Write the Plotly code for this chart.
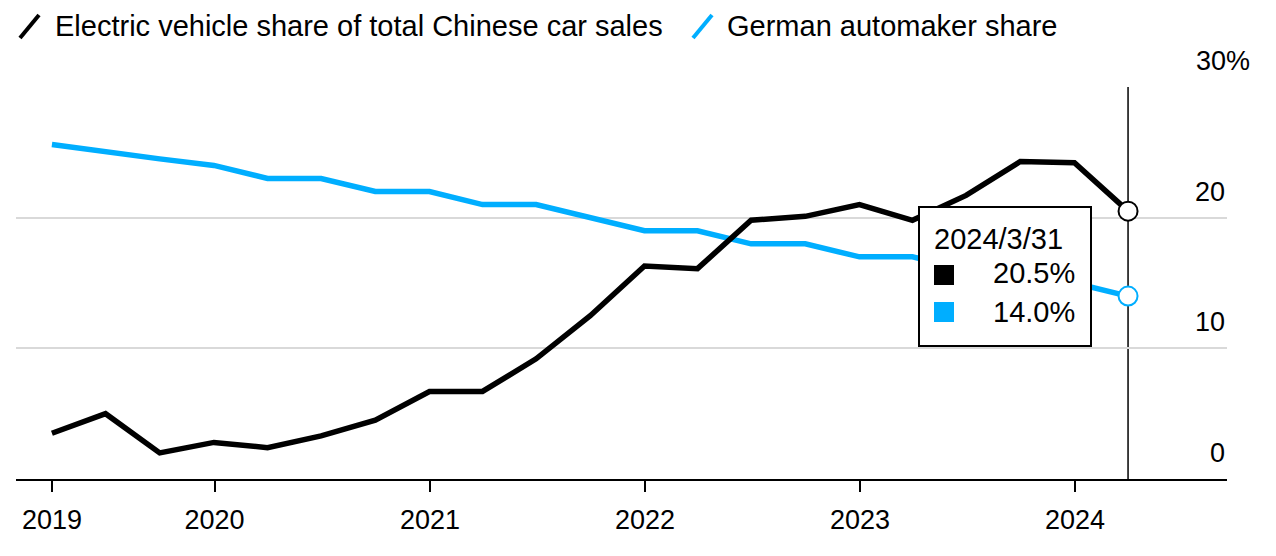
import plotly.graph_objects as go

# ---- data ----
dates = [
    "2019-03-31", "2019-06-30", "2019-09-30", "2019-12-31",
    "2020-03-31", "2020-06-30", "2020-09-30", "2020-12-31",
    "2021-03-31", "2021-06-30", "2021-09-30", "2021-12-31",
    "2022-03-31", "2022-06-30", "2022-09-30", "2022-12-31",
    "2023-03-31", "2023-06-30", "2023-09-30", "2023-12-31",
    "2024-03-31",
]
ev_share = [3.5, 5.0, 2.0, 2.8, 2.4, 3.3, 4.5, 6.7, 6.7, 9.2, 12.5, 16.3,
            16.1, 19.8, 20.1, 21.0, 19.8, 21.7, 24.3, 24.2, 20.5]
german_share = [25.6, 25.0, 24.5, 24.0, 23.0, 23.0, 22.0, 22.0, 21.0, 21.0,
                20.0, 19.0, 19.0, 18.0, 18.0, 17.0, 17.0, 16.0, 15.0, 15.0, 14.0]
series_names = ["Electric vehicle share of total Chinese car sales", "German automaker share"]
x_tick_vals = ["2019-03-31", "2020-01-01", "2021-01-01", "2022-01-01", "2023-01-01", "2024-01-01"]
x_tick_text = ["2019", "2020", "2021", "2022", "2023", "2024"]
y_tick_vals = [0, 10, 20, 30]
y_tick_text = ["0", "10", "20", "30%"]

BLACK = "#000000"
BLUE = "#00AEFF"
FONT = "Liberation Sans, Arial, sans-serif"

# page offset (body margin) = 8px; figure sized to fit the window
OFF = 8
W, H = 1276 - OFF, 556 - OFF
# plot area in screen pixels
SX0, SX1, SY0, SY1 = 16, 1227, 87, 479
L, R, T, B = SX0 - OFF, W - (SX1 - OFF), SY0 - OFF, H - (SY1 - OFF)
PW = SX1 - SX0
PH = SY1 - SY0


def px(xp):
    return (xp - SX0) / PW


def py(yp):
    return (SY1 - yp) / PH


fig = go.Figure()
fig.add_trace(go.Scatter(x=dates, y=german_share, mode="lines",
                         line=dict(color=BLUE, width=5.5), name=series_names[1],
                         showlegend=False, hoverinfo="skip"))
fig.add_trace(go.Scatter(x=dates, y=ev_share, mode="lines",
                         line=dict(color=BLACK, width=5.5), name=series_names[0],
                         showlegend=False, hoverinfo="skip"))
# hover markers at the last point
fig.add_trace(go.Scatter(x=[dates[-1]], y=[german_share[-1]], mode="markers",
                         marker=dict(size=19, color="white", line=dict(color=BLUE, width=2)),
                         showlegend=False, hoverinfo="skip"))
fig.add_trace(go.Scatter(x=[dates[-1]], y=[ev_share[-1]], mode="markers",
                         marker=dict(size=19, color="white", line=dict(color=BLACK, width=2)),
                         showlegend=False, hoverinfo="skip"))

shapes = []
# crosshair line
shapes.append(dict(type="line", xref="x", yref="y", x0=dates[-1], x1=dates[-1],
                   y0=0, y1=30, line=dict(color=BLACK, width=1.5), layer="below"))
# tooltip box
shapes.append(dict(type="rect", xref="paper", yref="paper",
                   x0=px(919), x1=px(1091), y0=py(346), y1=py(207),
                   fillcolor="white", line=dict(color=BLACK, width=2), layer="above"))
shapes.append(dict(type="rect", xref="paper", yref="paper",
                   x0=px(934), x1=px(954), y0=py(285), y1=py(265),
                   fillcolor=BLACK, line=dict(width=0), layer="above"))
shapes.append(dict(type="rect", xref="paper", yref="paper",
                   x0=px(934), x1=px(954), y0=py(322), y1=py(302),
                   fillcolor=BLUE, line=dict(width=0), layer="above"))
# legend slashes
shapes.append(dict(type="line", xref="paper", yref="paper",
                   x0=px(20), x1=px(39), y0=py(38), y1=py(15),
                   line=dict(color=BLACK, width=4)))
shapes.append(dict(type="line", xref="paper", yref="paper",
                   x0=px(693), x1=px(712), y0=py(38), y1=py(15),
                   line=dict(color=BLUE, width=4)))

annotations = []
annotations.append(dict(xref="paper", yref="paper", x=px(53), y=py(26),
                        text=series_names[0], showarrow=False, xanchor="left",
                        yanchor="middle", font=dict(size=29, color=BLACK, family=FONT)))
annotations.append(dict(xref="paper", yref="paper", x=px(725), y=py(26),
                        text=series_names[1], showarrow=False, xanchor="left",
                        yanchor="middle", font=dict(size=29, color=BLACK, family=FONT)))
for v, t in zip(y_tick_vals, y_tick_text):
    xr = px(1252) if t.endswith("%") else px(1227)
    annotations.append(dict(xref="paper", yref="y", x=xr, y=v, text=t,
                            showarrow=False, xanchor="right", yanchor="middle",
                            yshift=26, font=dict(size=27, color=BLACK, family=FONT)))
d = dates[-1].split("-")
date_label = f"{int(d[0])}/{int(d[1])}/{int(d[2])}"
annotations.append(dict(xref="paper", yref="paper", x=px(932), y=py(239),
                        text=date_label, showarrow=False, xanchor="left", yanchor="middle",
                        font=dict(size=29, color=BLACK, family=FONT)))
annotations.append(dict(xref="paper", yref="paper", x=px(1077), y=py(273),
                        text=f"{ev_share[-1]:.1f}%", showarrow=False, xanchor="right",
                        yanchor="middle", font=dict(size=29, color=BLACK, family=FONT)))
annotations.append(dict(xref="paper", yref="paper", x=px(1077), y=py(312),
                        text=f"{german_share[-1]:.1f}%", showarrow=False, xanchor="right",
                        yanchor="middle", font=dict(size=29, color=BLACK, family=FONT)))

fig.update_layout(
    width=W, height=H, autosize=False,
    margin=dict(l=L, r=R, t=T, b=B, pad=0),
    paper_bgcolor="white", plot_bgcolor="white",
    shapes=shapes, annotations=annotations,
    font=dict(family=FONT, size=27, color=BLACK),
    xaxis=dict(type="date", range=["2019-01-29", "2024-09-15"],
               showgrid=False, zeroline=False, showline=True, linecolor=BLACK,
               linewidth=2, ticks="outside", ticklen=11, tickwidth=2, tickcolor=BLACK,
               tickvals=x_tick_vals, ticktext=x_tick_text,
               tickfont=dict(size=27, family=FONT, color=BLACK), ticklabelstandoff=5),
    yaxis=dict(range=[0, 30], tickvals=y_tick_vals, showticklabels=False,
               showgrid=True, gridcolor="#d9d9d9", gridwidth=2, zeroline=False,
               showline=False, ticks=""),
)

fig.write_html("out.html", config={"displayModeBar": False})
